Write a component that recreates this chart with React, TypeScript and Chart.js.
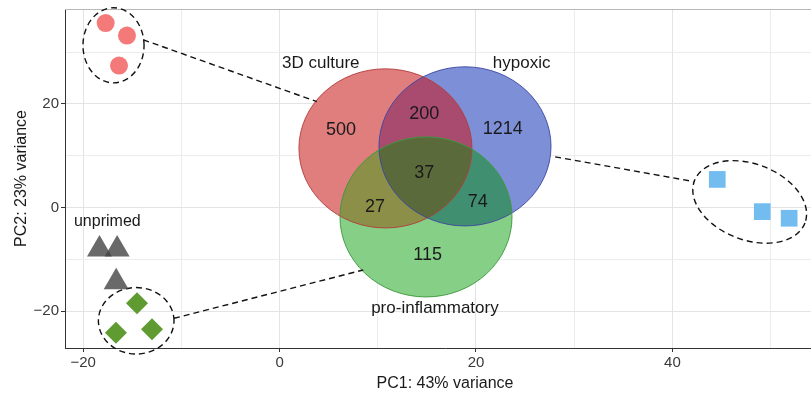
import React, { useEffect, useRef } from 'react';
import { Chart, registerables } from 'chart.js';

Chart.register(...registerables);

// ---- axes ----
const xTicks = [-20, -10, 0, 10, 20, 30, 40, 50];
const yTicks = [-20, -10, 0, 10, 20, 30];
const xLabelled = [-20, 0, 20, 40];
const yLabelled = [-20, 0, 20];
const xTitle = 'PC1: 43% variance';
const yTitle = 'PC2: 23% variance';

// ---- PCA samples ----
const culture3dX = [-17.71, -15.54, -16.35];
const culture3dY = [35.58, 33.18, 27.39];
const hypoxicX = [44.57, 49.15, 51.89];
const hypoxicY = [5.42, -0.79, -2.07];
const proInflX = [-14.52, -16.66, -12.99];
const proInflY = [-18.47, -24.15, -23.49];
const unprimedX = [-18.34, -16.54, -16.64];
const unprimedY = [-8.07, -8.07, -14.38];
const unprimedLabel = 'unprimed';
const unprimedLabelX = -17.54;
const unprimedLabelY = -2.7;

// ---- group ellipses (data units: centre, two semi-diameters) ----
const ellCX = [-16.91, 47.87, -14.6];
const ellCY = [31.29, 1.08, -21.85];
const ellUX = [3.11, 5.63, 3.85];
const ellUY = [0, -4.05, 0];
const ellVX = [0, -1.37, 0];
const ellVY = [7.24, -6.86, 6.41];

// ---- connectors ----
const connFromX = [-13.88, 28.06, -10.75];
const connFromY = [32.36, 9.78, -21.37];
const connToX = [3.78, 42.13, 8.52];
const connToY = [20.44, 5.02, -12.05];

// ---- Venn diagram (data units) ----
const vennSets = ['3D culture', 'hypoxic', 'pro-inflammatory'];
const vennCX = [10.78, 18.88, 14.91];
const vennCY = [11.41, 11.8, -1.81];
const vennRX = [8.81, 8.76, 8.76];
const vennRY = [15.35, 15.35, 15.44];
const vennLabelX = [4.2, 24.65, 15.82];
const vennLabelY = [27.85, 27.85, -19.4];

const vennRegions = ['3D', '3D+hyp', 'hyp', 'all', '3D+pro', 'hyp+pro', 'pro'];
const vennCounts = [500, 200, 1214, 37, 27, 74, 115];
const vennCountX = [6.25, 14.73, 22.72, 14.73, 9.72, 20.17, 15.08];
const vennCountY = [15.02, 18.0, 15.15, 6.74, 0.17, 1.0, -9.15];

const FONT = '"Liberation Sans", Arial, sans-serif';

const fmt = (v: number) => (v < 0 ? '\u2212' + Math.abs(v) : String(v));

const vennPlugin = {
  id: 'vennOverlay',
  beforeDatasetsDraw(chart: any) {
    const { ctx, scales, chartArea } = chart;
    const xs = scales.x;
    const ys = scales.y;

    // top panel border
    ctx.save();
    ctx.strokeStyle = '#b8b8b8';
    ctx.lineWidth = 1;
    ctx.beginPath();
    ctx.moveTo(chartArea.left, chartArea.top + 0.5);
    ctx.lineTo(chartArea.right, chartArea.top + 0.5);
    ctx.stroke();
    ctx.restore();

    const pathEll = (cx: number, cy: number, ux: number, uy: number, vx: number, vy: number) => {
      const px = xs.getPixelForValue(cx);
      const py = ys.getPixelForValue(cy);
      const upx = xs.getPixelForValue(cx + ux) - px;
      const upy = ys.getPixelForValue(cy + uy) - py;
      const vpx = xs.getPixelForValue(cx + vx) - px;
      const vpy = ys.getPixelForValue(cy + vy) - py;
      ctx.save();
      ctx.transform(upx, upy, vpx, vpy, px, py);
      ctx.arc(0, 0, 1, 0, Math.PI * 2);
      ctx.restore();
    };
    const vennPath = (i: number) => {
      ctx.beginPath();
      pathEll(vennCX[i], vennCY[i], vennRX[i], 0, 0, vennRY[i]);
    };

    // Venn fills
    const onlyCol = ['#E07D7D', '#7D8FD6', '#86CF86'];
    ctx.save();
    for (let i = 0; i < 3; i++) {
      vennPath(i);
      ctx.fillStyle = onlyCol[i];
      ctx.fill();
    }
    const pairs: [number, number, string][] = [
      [0, 1, '#A84B6F'],
      [0, 2, '#8C8F47'],
      [1, 2, '#418F71'],
    ];
    for (const [a, b, col] of pairs) {
      ctx.save();
      vennPath(a);
      ctx.clip();
      vennPath(b);
      ctx.fillStyle = col;
      ctx.fill();
      ctx.restore();
    }
    ctx.save();
    vennPath(0);
    ctx.clip();
    vennPath(1);
    ctx.clip();
    vennPath(2);
    ctx.fillStyle = '#5B6A3B';
    ctx.fill();
    ctx.restore();

    const edgeCol = ['rgba(180,60,60,0.9)', 'rgba(60,70,160,0.9)', 'rgba(60,150,60,0.9)'];
    ctx.lineWidth = 1;
    for (let i = 0; i < 3; i++) {
      vennPath(i);
      ctx.strokeStyle = edgeCol[i];
      ctx.stroke();
    }
    ctx.restore();

    // dashed group ellipses
    ctx.save();
    ctx.strokeStyle = '#111';
    ctx.lineWidth = 1.4;
    ctx.setLineDash([6, 4]);
    for (let i = 0; i < ellCX.length; i++) {
      ctx.beginPath();
      pathEll(ellCX[i], ellCY[i], ellUX[i], ellUY[i], ellVX[i], ellVY[i]);
      ctx.stroke();
    }
    ctx.restore();
  },
  afterDatasetsDraw(chart: any) {
    const { ctx, scales } = chart;
    const xs = scales.x;
    const ys = scales.y;
    ctx.save();
    ctx.textAlign = 'center';
    ctx.textBaseline = 'middle';
    ctx.fillStyle = '#1a1a1a';
    ctx.font = `17px ${FONT}`;
    for (let i = 0; i < vennSets.length; i++) {
      ctx.fillText(vennSets[i], xs.getPixelForValue(vennLabelX[i]), ys.getPixelForValue(vennLabelY[i]));
    }
    ctx.font = `18px ${FONT}`;
    for (let i = 0; i < vennCounts.length; i++) {
      ctx.fillText(String(vennCounts[i]), xs.getPixelForValue(vennCountX[i]), ys.getPixelForValue(vennCountY[i]));
    }
    ctx.font = `16px ${FONT}`;
    ctx.fillText(unprimedLabel, xs.getPixelForValue(unprimedLabelX), ys.getPixelForValue(unprimedLabelY));
    ctx.restore();
  },
};

const pts = (xa: number[], ya: number[]) => xa.map((x, i) => ({ x, y: ya[i] }));

export default function App() {
  const ref = useRef<HTMLCanvasElement | null>(null);
  useEffect(() => {
    if (!ref.current) return;
    const connectors = connFromX.map((_, i) => ({
      label: 'connector' + i,
      data: [
        { x: connFromX[i], y: connFromY[i] },
        { x: connToX[i], y: connToY[i] },
      ],
      showLine: true,
      borderColor: '#111',
      borderWidth: 1.4,
      borderDash: [6, 4],
      pointRadius: 0,
      fill: false,
      clip: false,
    }));
    const chart = new Chart(ref.current, {
      type: 'scatter',
      data: {
        datasets: [
          {
            label: '3D culture',
            data: pts(culture3dX, culture3dY),
            pointStyle: 'circle',
            pointRadius: 9,
            pointBackgroundColor: '#F47A7A',
            pointBorderWidth: 0,
            clip: false,
          },
          {
            label: 'hypoxic',
            data: pts(hypoxicX, hypoxicY),
            pointStyle: 'rect',
            pointRadius: 11.8,
            pointBackgroundColor: '#72BCF0',
            pointBorderWidth: 0,
            clip: false,
          },
          {
            label: 'pro-inflammatory',
            data: pts(proInflX, proInflY),
            pointStyle: 'rectRot',
            pointRadius: 11,
            pointBackgroundColor: '#5F9B31',
            pointBorderWidth: 0,
            clip: false,
          },
          {
            label: 'unprimed',
            data: pts(unprimedX, unprimedY),
            pointStyle: 'triangle',
            pointRadius: 14.4,
            pointBackgroundColor: 'rgba(68,68,68,0.8)',
            pointBorderWidth: 0,
            clip: false,
          },
          ...connectors,
        ] as any,
      },
      options: {
        animation: false,
        responsive: false,
        devicePixelRatio: 1,
        layout: { autoPadding: false, padding: { top: 9, right: 0, bottom: 0, left: 0 } },
        plugins: { legend: { display: false }, tooltip: { enabled: false } },
        scales: {
          x: {
            type: 'linear',
            min: -21.85,
            max: 55.54,
            afterFit: (s: any) => {
              s.height = 46;
              s.paddingLeft = 0;
              s.paddingRight = 0;
            },
            afterBuildTicks: (s: any) => {
              s.ticks = xTicks.map((v) => ({ value: v }));
            },
            grid: {
              color: (c: any) => (c.tick && xLabelled.includes(c.tick.value) ? '#e4e4e4' : '#ececec'),
              lineWidth: 1,
              tickLength: 4,
              tickColor: (c: any) => (c.tick && xLabelled.includes(c.tick.value) ? '#333' : 'rgba(0,0,0,0)'),
            },
            border: { display: true, color: '#333', width: 1 },
            ticks: {
              autoSkip: false,
              maxRotation: 0,
              padding: 2,
              color: '#3a3a3a',
              font: { family: FONT, size: 15 },
              callback: (v: any) => (xLabelled.includes(Number(v)) ? fmt(Number(v)) : ''),
            },
            title: {
              display: true,
              text: xTitle,
              color: '#1a1a1a',
              font: { family: FONT, size: 16 },
              padding: { top: 0, bottom: 1 },
            },
          },
          y: {
            type: 'linear',
            min: -27.1,
            max: 38.3,
            afterFit: (s: any) => {
              s.width = 65;
              s.paddingTop = 0;
              s.paddingBottom = 0;
            },
            afterBuildTicks: (s: any) => {
              s.ticks = yTicks.map((v) => ({ value: v }));
            },
            grid: {
              color: (c: any) => (c.tick && yLabelled.includes(c.tick.value) ? '#e4e4e4' : '#ececec'),
              lineWidth: 1,
              tickLength: 4,
              tickColor: (c: any) => (c.tick && yLabelled.includes(c.tick.value) ? '#333' : 'rgba(0,0,0,0)'),
            },
            border: { display: true, color: '#333', width: 1 },
            ticks: {
              autoSkip: false,
              padding: 2,
              color: '#3a3a3a',
              font: { family: FONT, size: 15 },
              callback: (v: any) => (yLabelled.includes(Number(v)) ? fmt(Number(v)) : ''),
            },
            title: {
              display: true,
              text: yTitle,
              color: '#1a1a1a',
              font: { family: FONT, size: 16 },
              padding: { top: 12, bottom: 0 },
            },
          },
        },
      } as any,
      plugins: [vennPlugin],
    });
    return () => chart.destroy();
  }, []);

  return (
    <div
      style={{
        position: 'fixed',
        left: 0,
        top: 0,
        width: 811,
        height: 394,
        overflow: 'hidden',
        background: '#fff',
      }}
    >
      <canvas
        ref={ref}
        width={825}
        height={394}
        style={{ display: 'block', width: '825px', height: '394px', maxWidth: 'none' }}
      />
    </div>
  );
}
